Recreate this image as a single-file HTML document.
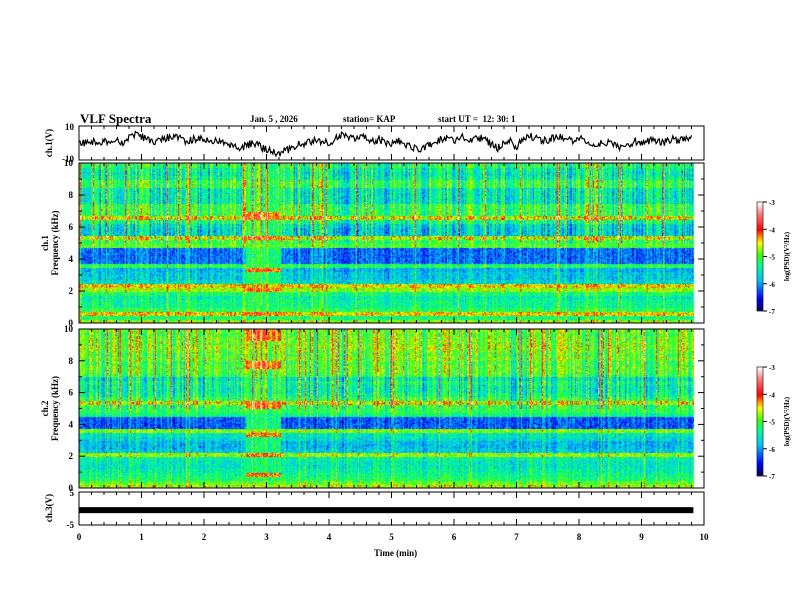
<!DOCTYPE html>
<html><head><meta charset="utf-8"><style>
body{margin:0;background:#fff;}
#wrap{position:relative;width:792px;height:612px;overflow:hidden;background:#fff;font-family:"Liberation Serif",serif;}
.t{position:absolute;font-weight:bold;color:#000;white-space:nowrap;}
canvas,svg{position:absolute;left:0;top:0;}
</style></head><body>
<div id="wrap">
<canvas id="cv" width="792" height="612"></canvas>
<svg id="sv" width="792" height="612"></svg>
<div class="t" style="left:80px;top:111px;font-size:13px;">VLF Spectra</div>
<div class="t" style="left:250px;top:114px;font-size:9px;">Jan. 5 , 2026</div>
<div class="t" style="left:343px;top:114px;font-size:9px;">station= KAP</div>
<div class="t" style="left:438px;top:114px;font-size:9px;">start UT = &nbsp;12: 30: 1</div>
<div class="t" style="left:374px;top:548px;font-size:9px;">Time (min)</div>
</div>
<script>
const X0=79,X1=704,TMAX=10;
const P_WAVE={y0:126,y1:160,min:-10,max:10};
const P_S1={y0:163,y1:323};
const P_S2={y0:329,y1:488};
const P_CH3={y0:492,y1:525,min:-5,max:5};
const xTicks=[0,1,2,3,4,5,6,7,8,9,10];
const freqTicks=[0,2,4,6,8,10];
const cbTicks=[-3,-4,-5,-6,-7];
// ch.1 waveform, one value per 0.1 min
const ch1Values=[1,0,1,0,1,1,2,0,3,5,4,2,1,2,3,4,3,1,2,3,2,1,1,0,-1,-2,-3,-1,0,-2,-4,-5,-6,-5,-3,-1,0,1,2,1,0,2,5,4,3,4,3,1,2,0,-1,1,0,-2,-3,-4,-1,0,3,2,1,4,3,2,3,2,-1,-3,0,1,-2,2,4,3,1,2,3,4,2,1,3,2,0,-1,0,1,-1,-3,-2,1,0,1,2,0,1,2,1,2,3];
const ch3Value=-0.5;
// frequency profiles, log PSD per 0.25 kHz bin (0 -> 9.75 kHz)
const prof1=[-4.8,-5.3,-4.5,-5.2,-5.4,-5.4,-5.5,-5.3,-4.8,-4.5,-5.7,-5.8,-5.8,-5.9,-5.2,-6.2,-6.2,-6.2,-6.2,-5.0,-5.2,-4.7,-5.8,-5.8,-5.7,-5.4,-4.6,-5.2,-5.2,-5.2,-5.6,-5.6,-5.6,-5.6,-5.2,-5.2,-5.5,-5.6,-5.5,-5.3];
const prof2=[-4.7,-5.0,-5.3,-5.4,-5.5,-5.6,-5.6,-5.5,-4.8,-5.8,-5.9,-5.9,-5.7,-5.6,-4.9,-6.3,-6.3,-6.3,-5.4,-5.2,-5.3,-4.7,-5.3,-5.5,-5.6,-5.6,-5.5,-5.7,-5.2,-5.1,-5.1,-5.2,-5.0,-5.1,-5.0,-4.9,-5.0,-5.0,-5.1,-5.0];
// burst interval (min) and burst-enhanced bins
const burstStart=2.66,burstEnd=3.23;
const burstFloor1=-5.3,burstLines1=[2,8,13,21,26,27];
const burstFloor2=-5.4,burstLines2=[3,8,13,20,21,30,31,37,38,39];
// column activity per 0.1 min
const colAct=[0.3,0.1,0.4,0.0,0.2,0.5,0.1,-0.2,0.3,0.4,0.2,0.0,0.3,0.1,0.5,0.2,-0.1,0.3,0.4,0.1,0.2,0.0,0.3,0.2,0.4,0.5,0.6,0.5,0.6,0.4,0.3,0.5,0.4,0.2,0.1,0.3,0.0,0.2,0.4,0.1,0.3,0.2,0.0,0.3,0.1,0.2,0.4,0.3,0.1,0.0,0.2,0.3,0.1,0.4,0.2,0.0,0.3,0.5,0.4,0.3,0.2,0.1,0.3,0.0,0.2,0.4,0.3,0.1,0.2,0.0,0.1,0.3,0.2,0.0,0.1,0.2,0.3,0.1,0.0,0.2,0.1,0.3,0.2,0.0,0.1,0.2,0.3,0.1,0.2,0.0,0.1,0.2,0.3,0.1,0.2,0.0,0.1,0.2,0.1,0.2];

const xs=t=>X0+t/TMAX*(X1-X0);
const ys=(p,v)=>p.y1-(v-p.min)/(p.max-p.min)*(p.y1-p.y0);
const fy=(p,f)=>p.y1-f/10*(p.y1-p.y0);
function hash(a,b){let h=(a*374761393+b*668265263)|0;h=(h^(h>>>13))*1274126177|0;return ((h^(h>>>16))>>>0)/4294967296;}
const stops=[[0,[0,0,70]],[0.12,[0,0,255]],[0.28,[0,190,255]],[0.42,[0,255,150]],[0.52,[60,255,0]],[0.63,[255,255,0]],[0.75,[255,0,0]],[0.9,[255,130,130]],[1,[255,255,255]]];
function cmap(v){let t=(v+7)/4;t=Math.max(0,Math.min(1,t));for(let i=1;i<stops.length;i++){if(t<=stops[i][0]){const a=stops[i-1],b=stops[i],u=(t-a[0])/(b[0]-a[0]);return a[1].map((c,k)=>Math.round(c+(b[1][k]-c)*u));}}return [255,255,255];}
const cv=document.getElementById('cv'),ctx=cv.getContext('2d');
function drawSpec(p,prof,bf,bl,seed){
  const w=X1-X0,h=p.y1-p.y0,img=ctx.createImageData(w,h);
  const tEnd=9.83;
  for(let x=0;x<w;x++){
    const t=x/w*TMAX;
    if(t>tEnd){for(let y=0;y<h;y++){const o=(y*w+x)*4;img.data[o]=255;img.data[o+1]=255;img.data[o+2]=255;img.data[o+3]=255;}continue;}
    const ca=colAct[Math.min(colAct.length-1,Math.floor(t*10))];
    let streak=hash(x,seed)-0.5;
    if(hash(x,seed+5)>0.93)streak+=0.9;
    const inB=t>=burstStart&&t<=burstEnd;
    for(let y=0;y<h;y++){
      const f=(h-y)/h*10;const bi=Math.min(39,Math.floor(f*4));
      let v=prof[bi];
      if(inB){v=Math.max(v,bf);if(bl.indexOf(bi)>=0)v=-4.3;}
      const up=f>5?1:0.45;
      v+=(ca*0.6+streak*1.1)*up+(hash(x*7+y,y+seed)-0.5)*0.8;
      const c=cmap(v),o=(y*w+x)*4;img.data[o]=c[0];img.data[o+1]=c[1];img.data[o+2]=c[2];img.data[o+3]=255;
    }
  }
  ctx.putImageData(img,X0,p.y0);
}
drawSpec(P_S1,prof1,burstFloor1,burstLines1,11);
drawSpec(P_S2,prof2,burstFloor2,burstLines2,23);
function drawCB(y0,y1){for(let y=y0;y<y1;y++){const v=-3-(y-y0)/(y1-y0)*4;const c=cmap(v);ctx.fillStyle=`rgb(${c})`;ctx.fillRect(757,y,6,1);}}
drawCB(202,311);drawCB(367,476);
const NS='http://www.w3.org/2000/svg',sv=document.getElementById('sv');
function el(tag,attrs,name,txt){const e=document.createElementNS(NS,tag);for(const k in attrs)e.setAttribute(k,attrs[k]);


if(txt!==undefined)e.textContent=txt;sv.appendChild(e);return e;}
function txt(x,y,s,name,anchor,size,rot){const a={x:x,y:y,'font-family':'Liberation Serif,serif','font-size':size||9,'font-weight':'bold','text-anchor':anchor||'middle'};if(rot)a.transform=`rotate(-90 ${x} ${y})`;return el('text',a,name,s);}
function frame(p,name){el('rect',{x:X0,y:p.y0,width:X1-X0,height:p.y1-p.y0,fill:'none',stroke:'#000','stroke-width':1},name);
  for(let i=0;i<=50;i++){const t=i*0.2,x=xs(t),L=i%5==0?6:3;
    el('line',{x1:x,y1:p.y0,x2:x,y2:p.y0+L,stroke:'#000'},'x-tick');
    el('line',{x1:x,y1:p.y1,x2:x,y2:p.y1-L,stroke:'#000'},'x-tick');}}
[P_WAVE,P_S1,P_S2,P_CH3].forEach((p,i)=>frame(p,'panel-frame-'+(i+1)));
// ch1 wave: interpolate data with fine jitter texture
let d='';const N=(ch1Values.length-1)*6;
for(let k=0;k<=N;k++){const i=Math.floor(k/6),u=(k%6)/6;const a=ch1Values[i],b=ch1Values[Math.min(i+1,ch1Values.length-1)];
  const v=a+(b-a)*u+(hash(k,77)-0.5)*4.5;
  d+=(k?'L':'M')+xs(k/60).toFixed(1)+' '+Math.max(P_WAVE.y0,Math.min(P_WAVE.y1,ys(P_WAVE,v))).toFixed(1);}
el('path',{d:d,fill:'none',stroke:'#000','stroke-width':1.2},'ch1-waveform');
txt(74,130,'10','ch1-y-tick-10','end');txt(74,162,'-10','ch1-y-tick-minus10','end');
txt(52,143,'ch.1(V)','ch1-y-axis-title','middle',9,true);
[[P_S1,'ch.1'],[P_S2,'ch.2']].forEach(([p,lab],k)=>{
  for(let f=0;f<=10;f++){const y=fy(p,f),L=f%2==0?6:3;
    el('line',{x1:X0,y1:y,x2:X0+L,y2:y,stroke:'#000'},'y-tick');
    el('line',{x1:X1,y1:y,x2:X1-L,y2:y,stroke:'#000'},'y-tick');}
  freqTicks.forEach(f=>txt(73,fy(p,f)+3,String(f),'freq-tick-label','end'));
  txt(48,(p.y0+p.y1)/2,lab,'ch'+(k+1)+'-label','middle',9,true);
  txt(58,(p.y0+p.y1)/2,'Frequency (kHz)','ch'+(k+1)+'-y-axis-title','middle',9,true);
});
[[202,311],[367,476]].forEach(([a,b],k)=>{
  el('rect',{x:757,y:a,width:6,height:b-a,fill:'none',stroke:'#000','stroke-width':0.6},'colorbar-'+(k+1));
  cbTicks.forEach((v,i)=>{const y=a+(-3-v)/4*(b-a);el('line',{x1:763,y1:y,x2:767,y2:y,stroke:'#000'},'colorbar-tick');txt(769,y+3,String(v),'colorbar-tick-label','start',7);});
  txt(789,(a+b)/2,'log(PSD)(V²/Hz)','colorbar-title','middle',7,true);
});
el('rect',{x:X0,y:ys(P_CH3,ch3Value)-3,width:xs(9.83)-X0,height:6,fill:'#000'},'ch3-signal');
txt(74,496,'5','ch3-y-tick-5','end');txt(74,528,'-5','ch3-y-tick-minus5','end');
txt(52,508,'ch.3(V)','ch3-y-axis-title','middle',9,true);
xTicks.forEach(t=>txt(xs(t),540,String(t),'x-tick-label'));
</script>
</body></html>
